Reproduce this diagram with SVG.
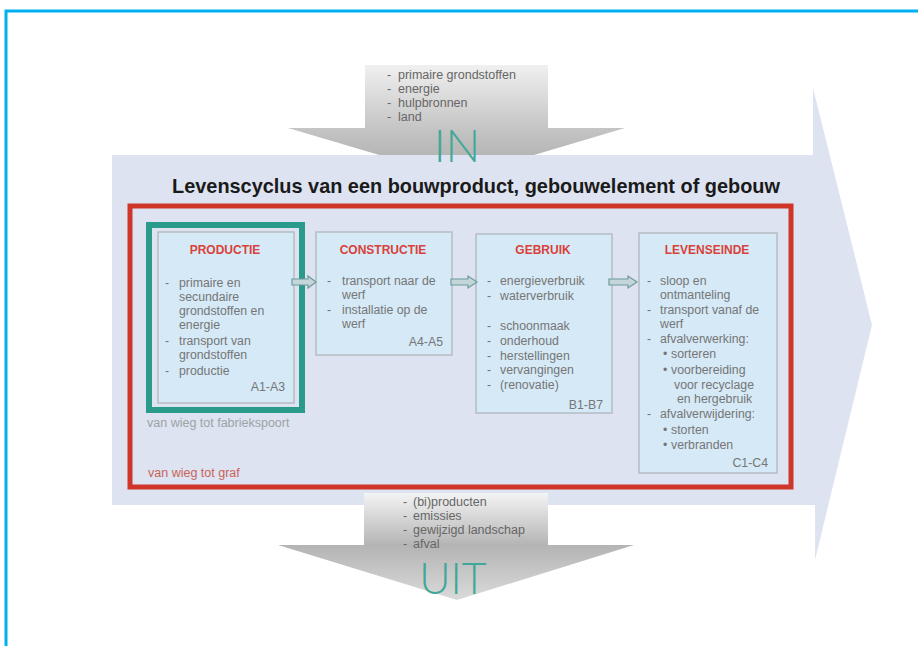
<svg xmlns="http://www.w3.org/2000/svg" width="918" height="646" viewBox="0 0 918 646">
<defs>
<linearGradient id="gIn" x1="0" y1="0" x2="0" y2="1">
<stop offset="0" stop-color="#f0f0f0"/>
<stop offset="0.6" stop-color="#c2c2c2"/>
<stop offset="1" stop-color="#a9a9a9"/>
</linearGradient>
<linearGradient id="gUit" x1="0" y1="0" x2="0" y2="1">
<stop offset="0" stop-color="#f4f4f4"/>
<stop offset="0.49" stop-color="#b4b4b4"/>
<stop offset="1" stop-color="#dadada"/>
</linearGradient>
<style>
.box{fill:#d5e9f7;stroke:#b4bcc4;stroke-width:1.5}
.ttl{font-family:"Liberation Sans",Arial,sans-serif;font-size:12px;font-weight:bold;fill:#d9413a;text-anchor:middle}
.li{font-family:"Liberation Sans",Arial,sans-serif;font-size:12.3px;fill:#767676}
.code{font-family:"Liberation Sans",Arial,sans-serif;font-size:12.3px;fill:#767676;text-anchor:end}
.io{font-family:"Liberation Sans",Arial,sans-serif;font-size:12.5px;fill:#666}
.big{font-family:Lato,"Liberation Sans",sans-serif;font-weight:300;fill:#3fa898;text-anchor:middle}
.conn{fill:#c5d6da;stroke:#6d9a9a;stroke-width:1.2}
</style>
</defs>
<rect width="918" height="646" fill="#ffffff"/>
<!-- frame -->
<path d="M6,646 V11 H918" fill="none" stroke="#00b0f0" stroke-width="3"/>

<g id="in-arrow">
<path d="M365,65 H548 V128 H625 L457,178 L288,128 H365 Z" fill="url(#gIn)"/>
</g>

<g id="lifecycle-arrow">
<path d="M112,155 H813 V88 L872,325 L815,560 V505 H112 Z" fill="#dde3f0"/>
</g>

<g id="uit-arrow">
<path d="M364,493 H548 V545 H634 L457,600 L278,545 H364 Z" fill="url(#gUit)"/>
</g>

<g id="in-list">
<text class="io" x="387" y="79">-</text><text class="io" x="398" y="79">primaire grondstoffen</text>
<text class="io" x="387" y="93">-</text><text class="io" x="398" y="93">energie</text>
<text class="io" x="387" y="107">-</text><text class="io" x="398" y="107">hulpbronnen</text>
<text class="io" x="387" y="121">-</text><text class="io" x="398" y="121">land</text>
<text class="big" x="457" y="162" font-size="46">IN</text>
</g>

<text x="476" y="193" font-family="'Liberation Sans',Arial,sans-serif" font-size="19.9" font-weight="bold" fill="#1a1a1a" text-anchor="middle">Levenscyclus van een bouwproduct, gebouwelement of gebouw</text>

<g id="cradle-to-grave">
<rect x="130" y="206" width="661" height="281" fill="none" stroke="#d0352a" stroke-width="5"/>
<text x="148" y="477" font-family="'Liberation Sans',Arial,sans-serif" font-size="12.5" fill="#c8635a">van wieg tot graf</text>
</g>

<g id="cradle-to-gate">
<rect x="149" y="225" width="153" height="185" fill="none" stroke="#2a9a8a" stroke-width="6"/>
<text x="147" y="427" font-family="'Liberation Sans',Arial,sans-serif" font-size="12.5" fill="#9aa4a8">van wieg tot fabriekspoort</text>
</g>

<g id="productie">
<rect class="box" x="158" y="232" width="136" height="171"/>
<text class="ttl" x="225" y="254">PRODUCTIE</text>
<text class="li" x="165" y="287">-</text><text class="li" x="179" y="287">primaire en</text>
<text class="li" x="179" y="301">secundaire</text>
<text class="li" x="179" y="315">grondstoffen en</text>
<text class="li" x="179" y="329">energie</text>
<text class="li" x="165" y="345">-</text><text class="li" x="179" y="345">transport van</text>
<text class="li" x="179" y="359">grondstoffen</text>
<text class="li" x="165" y="375">-</text><text class="li" x="179" y="375">productie</text>
<text class="code" x="285" y="391">A1-A3</text>
</g>

<g id="constructie">
<rect class="box" x="316" y="232" width="136" height="123"/>
<text class="ttl" x="383" y="254">CONSTRUCTIE</text>
<text class="li" x="327" y="285">-</text><text class="li" x="342" y="285">transport naar de</text>
<text class="li" x="342" y="299">werf</text>
<text class="li" x="327" y="314">-</text><text class="li" x="342" y="314">installatie op de</text>
<text class="li" x="342" y="328">werf</text>
<text class="code" x="443" y="346">A4-A5</text>
</g>

<g id="gebruik">
<rect class="box" x="476" y="234" width="136" height="179"/>
<text class="ttl" x="543" y="254">GEBRUIK</text>
<text class="li" x="487" y="285">-</text><text class="li" x="500" y="285">energieverbruik</text>
<text class="li" x="487" y="300">-</text><text class="li" x="500" y="300">waterverbruik</text>
<text class="li" x="487" y="330">-</text><text class="li" x="500" y="330">schoonmaak</text>
<text class="li" x="487" y="345">-</text><text class="li" x="500" y="345">onderhoud</text>
<text class="li" x="487" y="360">-</text><text class="li" x="500" y="360">herstellingen</text>
<text class="li" x="487" y="374">-</text><text class="li" x="500" y="374">vervangingen</text>
<text class="li" x="487" y="389">-</text><text class="li" x="500" y="389">(renovatie)</text>
<text class="code" x="603" y="409">B1-B7</text>
</g>

<g id="levenseinde">
<rect class="box" x="639" y="233" width="138" height="240"/>
<text class="ttl" x="707" y="254">LEVENSEINDE</text>
<text class="li" x="647" y="285">-</text><text class="li" x="660" y="285">sloop en</text>
<text class="li" x="660" y="299">ontmanteling</text>
<text class="li" x="647" y="314">-</text><text class="li" x="660" y="314">transport vanaf de</text>
<text class="li" x="660" y="328">werf</text>
<text class="li" x="647" y="343">-</text><text class="li" x="660" y="343">afvalverwerking:</text>
<text class="li" x="663" y="358">•</text><text class="li" x="671" y="358">sorteren</text>
<text class="li" x="663" y="374">•</text><text class="li" x="671" y="374">voorbereiding</text>
<text class="li" x="674" y="389">voor recyclage</text>
<text class="li" x="677" y="403">en hergebruik</text>
<text class="li" x="647" y="418">-</text><text class="li" x="660" y="418">afvalverwijdering:</text>
<text class="li" x="663" y="434">•</text><text class="li" x="671" y="434">storten</text>
<text class="li" x="663" y="449">•</text><text class="li" x="671" y="449">verbranden</text>
<text class="code" x="768" y="467">C1-C4</text>
</g>

<g id="connectors">
<path class="conn" d="M292,279 H308 V276 L316,282 L308,288 V285 H292 Z"/>
<path class="conn" d="M451,279 H468 V276 L477,282 L468,288 V285 H451 Z"/>
<path class="conn" d="M609,279 H628 V276 L637,282 L628,288 V285 H609 Z"/>
</g>

<g id="uit-list">
<text class="io" x="403" y="506" font-size="13">-</text><text class="io" x="413" y="506" font-size="13">(bi)producten</text>
<text class="io" x="403" y="520" font-size="13">-</text><text class="io" x="413" y="520" font-size="13">emissies</text>
<text class="io" x="403" y="534" font-size="13">-</text><text class="io" x="413" y="534" font-size="13">gewijzigd landschap</text>
<text class="io" x="403" y="548" font-size="13">-</text><text class="io" x="413" y="548" font-size="13">afval</text>
<text class="big" x="453" y="594" font-size="43">UIT</text>
</g>
</svg>
